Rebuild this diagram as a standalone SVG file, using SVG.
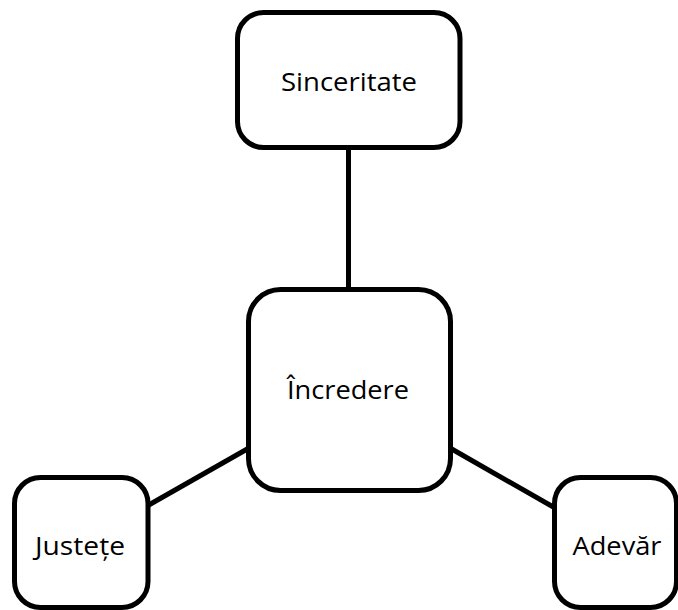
<svg xmlns="http://www.w3.org/2000/svg" width="678" height="610" viewBox="0 0 678 610">
  <style>
    .box { fill: #ffffff; stroke: #000000; stroke-width: 5; }
    .link { stroke: #000000; stroke-width: 5; fill: none; }
    .label { font-family: "Open Sans", "Noto Sans", "Liberation Sans", sans-serif; font-size: 25px; fill: #000000; text-anchor: middle; }
  </style>
  <rect x="0" y="0" width="678" height="610" fill="#ffffff"/>
  <g id="connectors">
    <line class="link" x1="348.5" y1="147" x2="348.5" y2="290"/>
    <line class="link" x1="249" y1="448" x2="147" y2="506"/>
    <line class="link" x1="450" y1="448" x2="555" y2="508"/>
  </g>
  <g id="sinceritate">
    <rect class="box" x="237.5" y="12.5" width="222.5" height="135" rx="26" ry="26"/>
    <text class="label" x="349" y="91" textLength="136" lengthAdjust="spacingAndGlyphs">Sinceritate</text>
  </g>
  <g id="incredere">
    <rect class="box" x="248.5" y="289.5" width="202" height="201" rx="32" ry="32"/>
    <text class="label" x="348" y="399" textLength="122" lengthAdjust="spacingAndGlyphs">Încredere</text>
  </g>
  <g id="justete">
    <rect class="box" x="14.5" y="477.5" width="133.5" height="130" rx="26" ry="26"/>
    <text class="label" x="80" y="555" textLength="90" lengthAdjust="spacingAndGlyphs">Justețe</text>
  </g>
  <g id="adevar">
    <rect class="box" x="554.5" y="477.5" width="122" height="130" rx="26" ry="26"/>
    <text class="label" x="617" y="555" textLength="89" lengthAdjust="spacingAndGlyphs">Adevăr</text>
  </g>
</svg>
